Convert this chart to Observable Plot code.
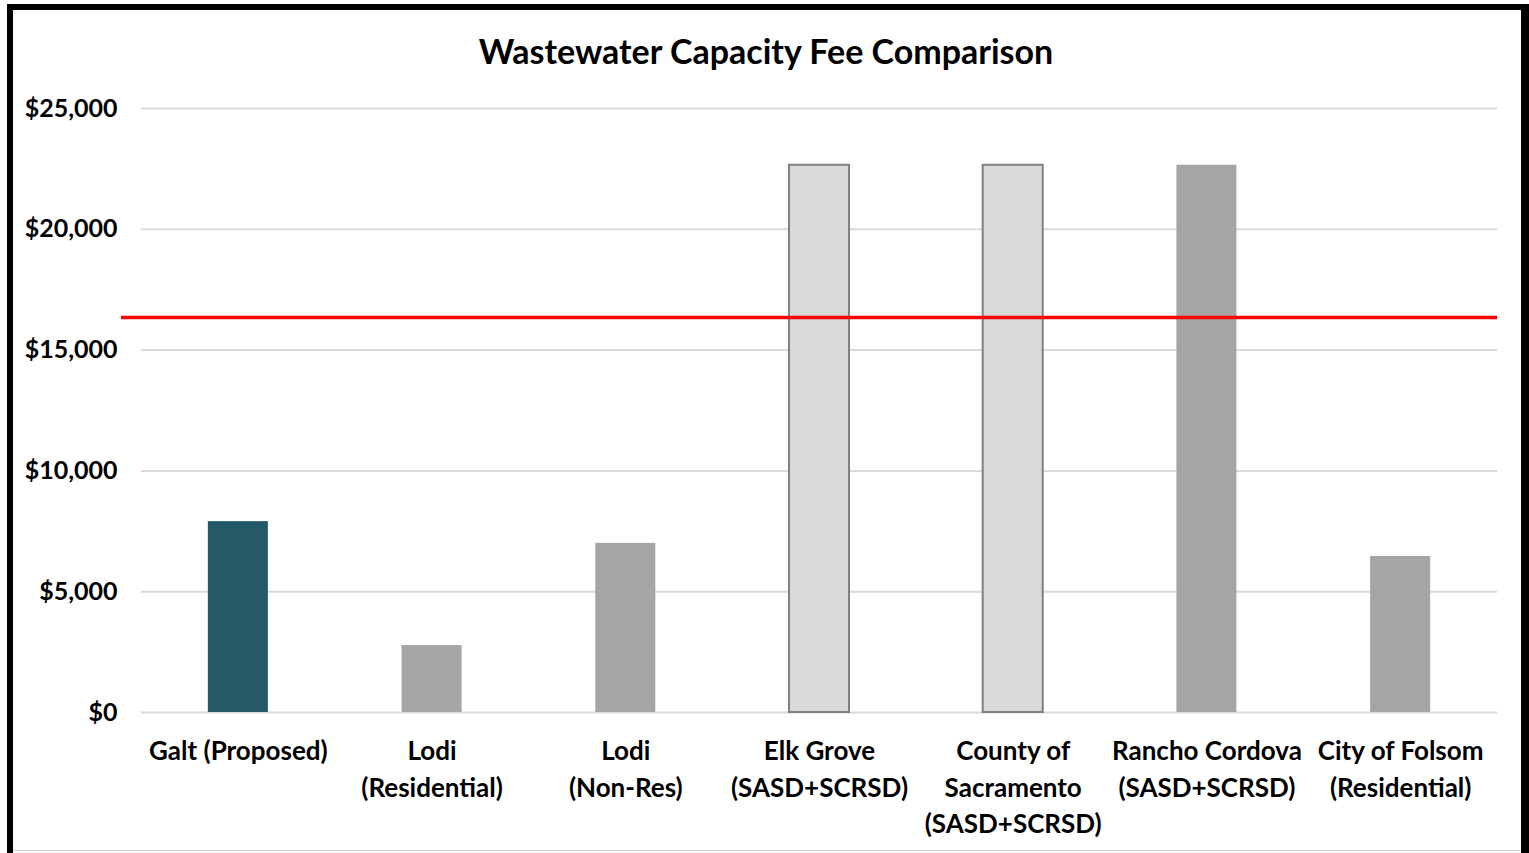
<!DOCTYPE html>
<html>
<head>
<meta charset="utf-8">
<script src="https://cdn.jsdelivr.net/npm/d3@7"></script>
<script src="https://cdn.jsdelivr.net/npm/@observablehq/plot@0.6"></script>
<style>
  html, body { margin: 0; padding: 0; background: #fff; }
  #wrap { position: relative; width: 1529px; height: 853px; overflow: hidden; background: #fff; }
  #frame { position: absolute; left: 7px; top: 4px; width: 1508px; height: 900px;
           border-left: 6px solid #000; border-top: 6px solid #000; border-right: 8px solid #000; }
  #bottomline { position: absolute; left: 13px; top: 850px; width: 1507px; height: 1px; background: #d0d0d0; }
  #title { position: absolute; left: 0; top: 30px; width: 1532px; text-align: center;
           font-family: Lato, "Open Sans", sans-serif; font-weight: bold; font-size: 34px; color: #000; }
  #chart { position: absolute; left: 0; top: 0; }
</style>
</head>
<body>
<div id="wrap">
  <div id="chart"></div>
  <div id="title">Wastewater Capacity Fee Comparison</div>
  <div id="frame"></div>
  <div id="bottomline"></div>
</div>
<script>
const categories = [
  "Galt (Proposed)",
  "Lodi\n(Residential)",
  "Lodi\n(Non-Res)",
  "Elk Grove\n(SASD+SCRSD)",
  "County of\nSacramento\n(SASD+SCRSD)",
  "Rancho Cordova\n(SASD+SCRSD)",
  "City of Folsom\n(Residential)"
];
const fees = [7900, 2770, 7000, 22650, 22650, 22650, 6460];
const groups = ["Proposed", "Other", "Other", "Regional", "Regional", "Other", "Other"];
const referenceFee = 16350;
const yTicks = [0, 5000, 10000, 15000, 20000, 25000];

const data = categories.map((c, i) => ({category: c, fee: fees[i], group: groups[i]}));

const chart = Plot.plot({
  width: 1529,
  height: 853,
  marginTop: 108,
  marginBottom: 141,
  marginLeft: 141,
  marginRight: 32,
  style: {fontFamily: "Lato, 'Open Sans', sans-serif", fontSize: "24px", fontWeight: "bold", color: "#000", background: "transparent"},
  x: {domain: categories, paddingInner: 0.69, paddingOuter: 0.345, round: false, label: null},
  y: {domain: [0, 25000], label: null},
  color: {domain: ["Proposed", "Other", "Regional"], range: ["#245968", "#a5a5a5", "#d9d9d9"]},
  marks: [
    Plot.gridY(yTicks, {stroke: "#d9d9d9", strokeOpacity: 1, strokeWidth: 2}),
    Plot.barY(data, {
      x: "category", y: "fee", fill: "group",
      stroke: d => d.group === "Regional" ? "#808080" : "none",
      strokeWidth: 2
    }),
    Plot.ruleY([referenceFee], {stroke: "#ff0000", strokeWidth: 3.5, insetLeft: -20}),
    Plot.axisY({ticks: yTicks, tickSize: 0, tickPadding: 24, tickFormat: d => "$" + d3.format(",")(d), fontSize: 25, label: null}),
    Plot.axisX({tickSize: 0, tickPadding: 22, lineHeight: 1.4, fontSize: 26, label: null})
  ]
});
document.getElementById("chart").appendChild(chart);
</script>
</body>
</html>
